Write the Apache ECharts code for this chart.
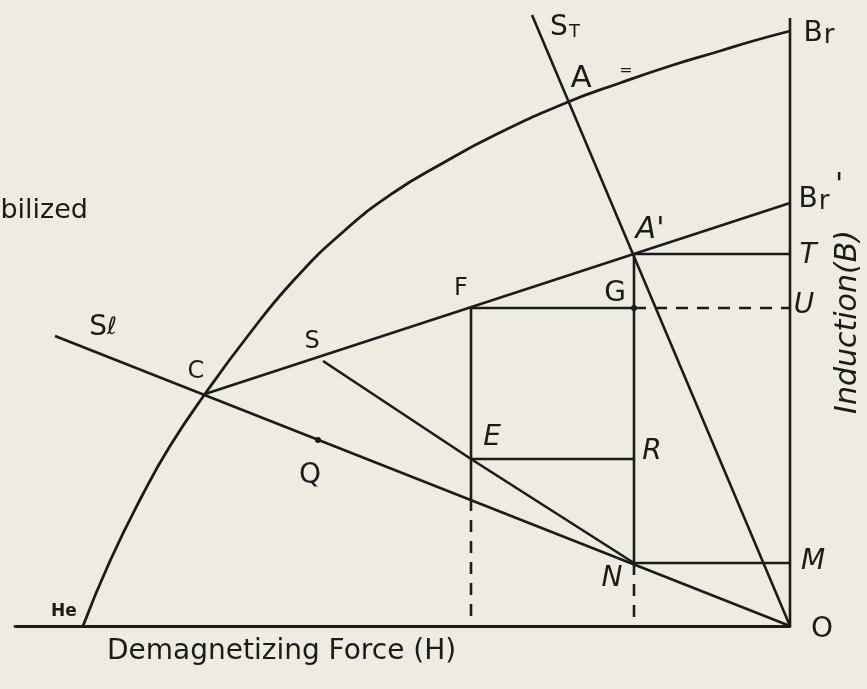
<!DOCTYPE html>
<html>
<head>
<meta charset="utf-8">
<script src="https://cdn.jsdelivr.net/npm/echarts/dist/echarts.min.js"></script>
<style>
  html, body { margin: 0; padding: 0; background: #eeece0; }
  #chart { width: 867px; height: 689px; }
</style>
</head>
<body>
<div id="chart"></div>
<script>
// Demagnetization curve (second quadrant), H measured leftwards from O
const curveH = [0, 37, 70, 120, 170, 222, 295, 347, 397, 447, 497, 543, 585, 620, 647, 680, 707];
const curveB = [595, 585, 575, 560, 543, 524, 491, 463, 433, 394, 345, 289, 232, 180, 132, 65, 0];

// Named construction points [H, B]
const ptO = [0, 0];
const ptC = [585, 232];
const ptAp = [156, 372];
const ptBrp = [0, 423];
const ptF = [319, 318];
const ptG = [156, 318];
const ptE = [319, 167];
const ptR = [156, 167];
const ptN = [156, 63];
const ptS = [467, 265];
const ptQ = [472, 186];
const ptT = [0, 372];
const ptU = [0, 318];
const ptM = [0, 63];
const ptFbase = [319, 127];   // where the F vertical meets the Sl line
const ptFfoot = [319, 0];
const ptNfoot = [156, 0];
const stTop = [258, 611];     // upper end of the St load line
const slEnd = [735, 290];     // left end of the Sl load line
const bAxisTop = [0, 608];

// Solid construction segments
const solidSegments = [
  [ptO, stTop],            // St load line through A and A'
  [ptO, slEnd],            // Sl load line through N, Q, C
  [ptC, ptBrp],            // recoil line C - S - F - A' - Br'
  [ptS, ptE, ptN],         // line S - E - N
  [ptF, ptFbase],          // F down through E
  [ptAp, ptN],             // A' down through G, R to N
  [ptAp, ptT],
  [ptF, ptG],
  [ptE, ptR],
  [ptN, ptM],
  [ptO, bAxisTop]          // induction axis
];
// Dashed projections
const dashedSegments = [
  [ptFbase, ptFfoot],
  [ptN, ptNfoot],
  [ptG, ptU]
];
const dots = [ptQ, ptG];

// Point labels: text and the data position it is centred on
const pointLabels = [
  { text: '{b|B}{r|r}', at: [-29, 592] },
  { text: '{b|B}{r|r}', at: [-24, 426] },
  { text: "'", at: [-49, 440], size: 30, italic: true },
  { text: 'T', at: [-18, 370], italic: true },
  { text: 'U', at: [-14, 320], italic: true },
  { text: 'M', at: [-23, 64], italic: true },
  { text: 'O', at: [-32, -4] },
  { text: 'N', at: [178, 47], italic: true },
  { text: 'R', at: [138, 174], italic: true },
  { text: 'E', at: [298, 188], italic: true },
  { text: 'G', at: [175, 332] },
  { text: 'F', at: [329, 337], size: 24 },
  { text: 'S', at: [478, 284], size: 24 },
  { text: 'Q', at: [480, 150] },
  { text: 'C', at: [594, 254], size: 24 },
  { text: '{b|S}{l|ℓ}', at: [687, 298] },
  { text: '{b|S}{t|T}', at: [225, 598] },
  { text: 'A', at: [209, 547], size: 31 },
  { text: "A'", at: [140, 396], size: 30, italic: true },
  { text: '=', at: [164, 555], size: 16 },
  { text: 'He', at: [726, 14], size: 17, bold: true }
];

const INK = '#1b1b1b';
const FONT = 'DejaVu Sans';
const chart = echarts.init(document.getElementById('chart'), null, { renderer: 'canvas' });

const series = [];
series.push({
  type: 'line',
  data: curveH.map((h, i) => [h, curveB[i]]),
  smooth: 0.5,
  symbol: 'none',
  clip: false,
  lineStyle: { color: INK, width: 2.8 }
});
solidSegments.forEach(seg => series.push({
  type: 'line', data: seg, symbol: 'none', clip: false, silent: true,
  lineStyle: { color: INK, width: 2.6 }
}));
dashedSegments.forEach(seg => series.push({
  type: 'line', data: seg, symbol: 'none', clip: false, silent: true,
  lineStyle: { color: INK, width: 2.6, type: [12, 9] }
}));
series.push({
  type: 'scatter', data: dots, symbolSize: 6, clip: false,
  itemStyle: { color: INK, opacity: 1 }
});
series.push({
  type: 'scatter',
  clip: false,
  symbolSize: 0,
  silent: true,
  itemStyle: { opacity: 1 },
  data: pointLabels.map(l => ({
    value: l.at,
    label: {
      show: true,
      position: 'inside',
      formatter: l.text,
      fontSize: l.size || 28,
      fontStyle: l.italic ? 'italic' : 'normal',
      fontWeight: l.bold ? 'bold' : 'normal',
      fontFamily: FONT,
      color: INK,
      rich: {
        b: { fontSize: 28, color: INK, fontFamily: FONT },
        r: { fontSize: 26, color: INK, fontFamily: FONT, padding: [4, 0, 0, 1] },
        l: { fontSize: 24, color: INK, fontFamily: FONT, fontStyle: 'italic' },
        t: { fontSize: 18, color: INK, fontFamily: FONT, padding: [8, 0, 0, 1] }
      }
    }
  }))
});

chart.setOption({
  backgroundColor: '#eeece0',
  animation: false,
  grid: { left: 15, right: 77, top: 18, bottom: 63 },
  xAxis: {
    type: 'value', inverse: true, min: 0, max: 775,
    axisLine: { show: true, onZero: false, lineStyle: { color: INK, width: 2.8 } },
    axisTick: { show: false }, axisLabel: { show: false }, splitLine: { show: false }
  },
  yAxis: {
    type: 'value', min: 0, max: 608,
    axisLine: { show: false }, axisTick: { show: false },
    axisLabel: { show: false }, splitLine: { show: false }
  },
  graphic: [
    {
      type: 'text', x: 107, y: 652,
      style: { text: 'Demagnetizing Force (H)', fontSize: 28, fontFamily: FONT, fill: INK, verticalAlign: 'middle' }
    },
    {
      type: 'text', x: 88, y: 211,
      style: { text: 'bilized', fontSize: 27, fontFamily: FONT, fill: INK, align: 'right', verticalAlign: 'middle' }
    },
    {
      type: 'text', x: 848, y: 322, rotation: Math.PI / 2,
      style: {
        text: 'Induction(B)', fontSize: 30, fontStyle: 'italic', fontFamily: FONT,
        fill: INK, align: 'center', verticalAlign: 'middle'
      }
    }
  ],
  series: series
});
</script>
</body>
</html>
